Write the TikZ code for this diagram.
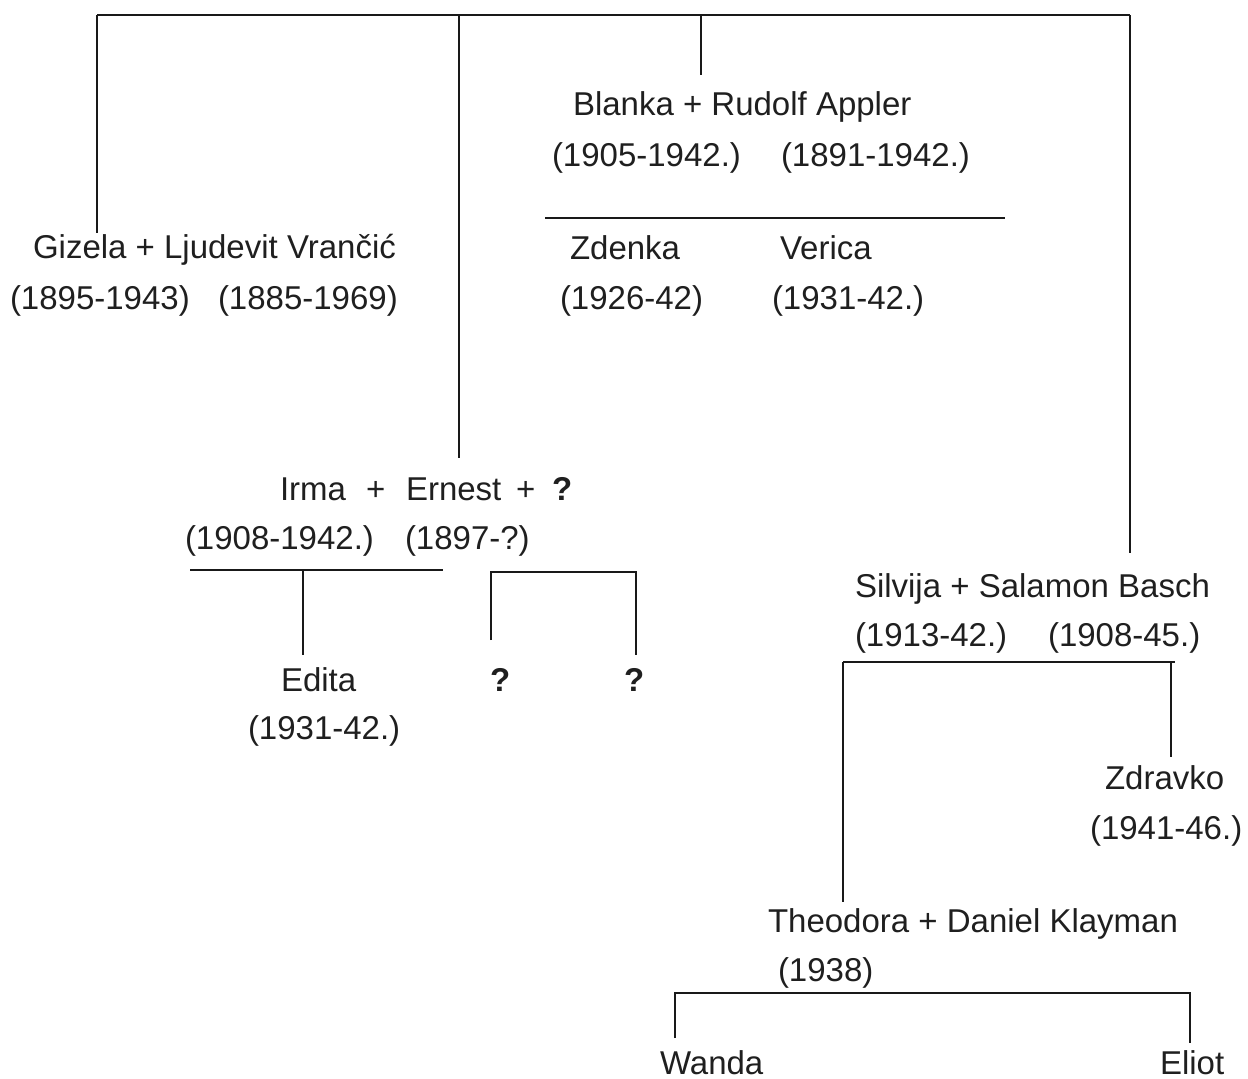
\documentclass[tikz,border=0pt]{standalone}
\usepackage{fontspec}
\setmainfont{Liberation Sans}
\begin{document}
\begin{tikzpicture}[x=1pt,y=-1pt,
  lbl/.style={anchor=base west, inner sep=0pt, outer sep=0pt, text=black!88, font=\fontsize{33}{40}\selectfont},
  bond/.style={line width=1.7pt, black!90}]
\useasboundingbox (0,0) rectangle (1248,1079);
% ---------- text ----------
\node[lbl] (blanka) at (573,115) {Blanka + Rudolf Appler};
\node[lbl] (blankaD1) at (552,166) {(1905-1942.)};
\node[lbl] (blankaD2) at (781,166) {(1891-1942.)};
\node[lbl] (zdenka) at (570,259) {Zdenka};
\node[lbl] (verica) at (780,259) {Verica};
\node[lbl] (zdenkaD) at (560,309) {(1926-42)};
\node[lbl] (vericaD) at (772,309) {(1931-42.)};
\node[lbl] (gizela) at (33,258) {Gizela + Ljudevit Vrančić};
\node[lbl] (gizelaD1) at (10,309) {(1895-1943)};
\node[lbl] (gizelaD2) at (218,309) {(1885-1969)};
\node[lbl] (irma) at (280,500) {Irma};
\node[lbl] (plus1) at (366,500) {+};
\node[lbl] (ernest) at (406,500) {Ernest};
\node[lbl] (plus2) at (516,500) {+};
\node[lbl] (q0) at (552,500) {\bfseries ?};
\node[lbl] (irmaD) at (185,549) {(1908-1942.)};
\node[lbl] (ernestD) at (405,549) {(1897-?)};
\node[lbl] (edita) at (281,691) {Edita};
\node[lbl] (editaD) at (248,739) {(1931-42.)};
\node[lbl] (q1) at (490,691) {\bfseries ?};
\node[lbl] (q2) at (624,691) {\bfseries ?};
\node[lbl] (silvija) at (855,597) {Silvija + Salamon Basch};
\node[lbl] (silvijaD1) at (855,646) {(1913-42.)};
\node[lbl] (silvijaD2) at (1048,646) {(1908-45.)};
\node[lbl] (zdravko) at (1105,789) {Zdravko};
\node[lbl] (zdravkoD) at (1090,839) {(1941-46.)};
\node[lbl] (theodora) at (768,932) {Theodora + Daniel Klayman};
\node[lbl] (theodoraD) at (778,981) {(1938)};
\node[lbl] (wanda) at (660,1074) {Wanda};
\node[lbl] (eliot) at (1160,1074) {Eliot};
% ---------- junctions ----------
\coordinate (topL) at (97,15);
\coordinate (topR) at (1130,15);
\coordinate (jIrma) at (459,15);
\coordinate (jBlanka) at (701,15);
\coordinate (eGizela) at (97,233);
\coordinate (eIrma) at (459,458);
\coordinate (eBlanka) at (701,75);
\coordinate (eSilvija) at (1130,553);
\coordinate (bkL) at (545,218);
\coordinate (bkR) at (1005,218);
\coordinate (irL) at (190,570);
\coordinate (irR) at (443,570);
\coordinate (irJ) at (303,570);
\coordinate (eEdita) at (303,655);
\coordinate (qL) at (491,572);
\coordinate (qR) at (636,572);
\coordinate (eQ1) at (491,640);
\coordinate (eQ2) at (636,655);
\coordinate (svL) at (843,662);
\coordinate (svR) at (1175,662);
\coordinate (svJ) at (1171,662);
\coordinate (eTheo) at (843,902);
\coordinate (eZdr) at (1171,757);
\coordinate (thL) at (675,993);
\coordinate (thR) at (1190,993);
\coordinate (eWanda) at (675,1038);
\coordinate (eEliot) at (1190,1043);
% ---------- connectors ----------
\draw[bond] (topL) -- (topR);
\draw[bond] (topL) -- (eGizela);
\draw[bond] (jIrma) -- (eIrma);
\draw[bond] (jBlanka) -- (eBlanka);
\draw[bond] (topR) -- (eSilvija);
\draw[bond] (bkL) -- (bkR);
\draw[bond] (irL) -- (irR);
\draw[bond] (irJ) -- (eEdita);
\draw[bond] (eQ1) -- (qL) -- (qR) -- (eQ2);
\draw[bond] (svL) -- (svR);
\draw[bond] (svJ) -- (eZdr);
\draw[bond] (svL) -- (eTheo);
\draw[bond] (eWanda) -- (thL) -- (thR) -- (eEliot);
\end{tikzpicture}
\end{document}
